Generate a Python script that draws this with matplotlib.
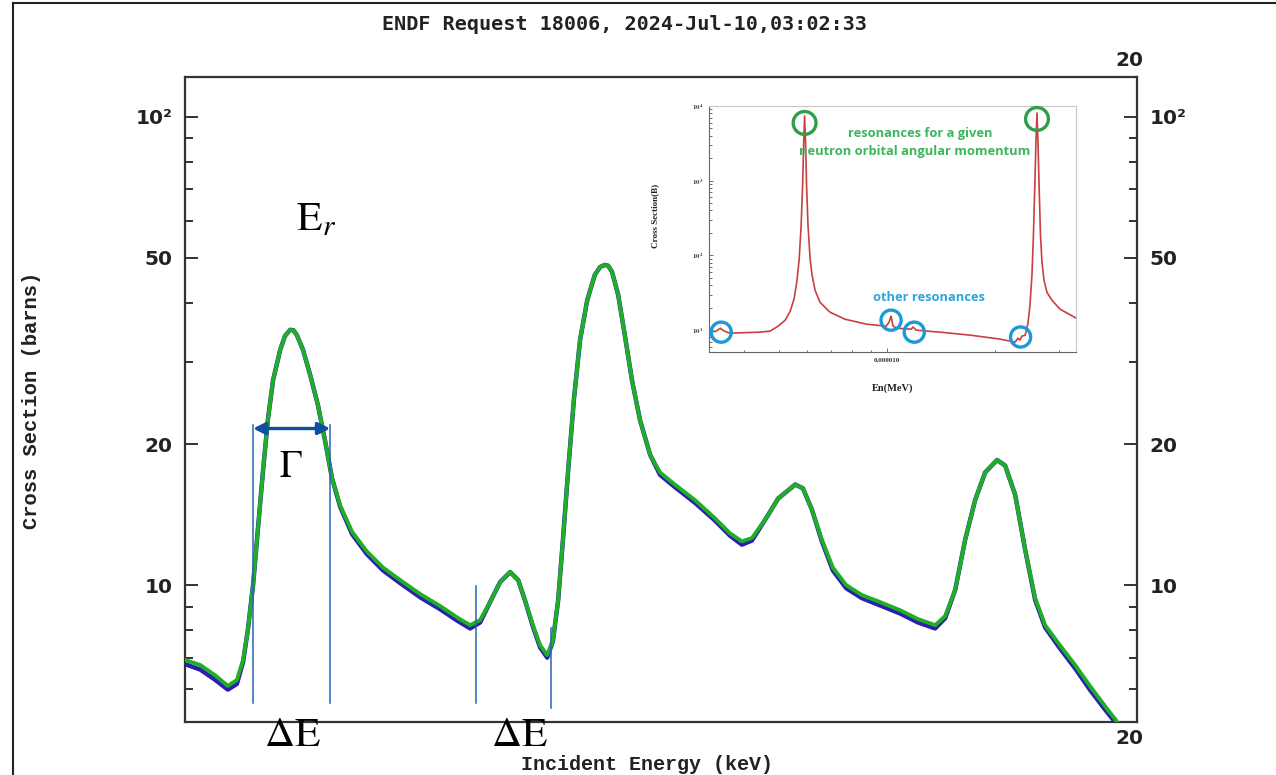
import matplotlib
matplotlib.use("Agg")
import matplotlib.pyplot as plt
from matplotlib.transforms import ScaledTranslation
from matplotlib.lines import Line2D

# ---------------- data ----------------
energy_kev = [0.00, 0.32, 0.63, 0.90, 1.09, 1.22, 1.32, 1.43, 1.53, 1.64,
              1.74, 1.85, 2.00, 2.10, 2.21, 2.28, 2.35, 2.48, 2.63, 2.79, 2.94, 3.09,
              3.26, 3.51, 3.82, 4.16, 4.52, 4.94, 5.36, 5.74, 5.99, 6.20,
              6.41, 6.62, 6.83, 7.00, 7.14, 7.31, 7.46, 7.61, 7.73, 7.84,
              7.94, 8.05, 8.17, 8.30, 8.45, 8.61, 8.72, 8.82, 8.89, 8.97, 9.10, 9.24,
              9.39, 9.56, 9.77, 9.98, 10.29, 10.71, 11.13, 11.45, 11.70, 11.91,
              12.19, 12.46, 12.82, 12.98, 13.17, 13.38, 13.61, 13.89, 14.22, 14.60,
              15.02, 15.40, 15.76, 15.97, 16.18, 16.39, 16.60, 16.81, 17.06, 17.23,
              17.44, 17.65, 17.86, 18.07, 18.38, 18.70, 19.01, 19.33, 19.64]

sigma_green = [6.92, 6.75, 6.42, 6.09, 6.27, 6.92, 8.01, 10.0, 13.1, 17.6,
               22.5, 27.4, 31.8, 34.05, 35.1, 35.0, 34.2, 31.8, 28.1, 24.3, 20.4, 16.9,
               14.8, 13.0, 11.8, 10.9, 10.25, 9.57, 9.02, 8.50, 8.21, 8.42,
               9.20, 10.15, 10.66, 10.25, 9.29, 8.21, 7.44, 7.09, 7.63, 9.29,
               12.5, 17.6, 24.9, 33.4, 40.6, 46.0, 47.8, 48.3, 48.1, 46.7, 41.7, 34.2,
               27.4, 22.5, 19.0, 17.4, 16.4, 15.2, 13.9, 12.9, 12.4, 12.6,
               13.8, 15.3, 16.4, 16.1, 14.5, 12.5, 10.9, 10.0, 9.52, 9.20,
               8.84, 8.46, 8.21, 8.59, 9.76, 12.5, 15.2, 17.4, 18.5, 18.0,
               15.6, 11.9, 9.38, 8.21, 7.44, 6.75, 6.09, 5.51, 5.02]

sigma_blue = [6.78, 6.60, 6.28, 5.98, 6.15, 6.85, 8.01, 10.0, 13.1, 17.6,
              22.5, 27.4, 31.8, 34.05, 35.1, 35.0, 34.2, 31.8, 28.1, 24.3, 20.4, 16.9,
              14.7, 12.85, 11.65, 10.75, 10.1, 9.42, 8.88, 8.37, 8.08, 8.32,
              9.20, 10.15, 10.66, 10.25, 9.29, 8.15, 7.36, 7.00, 7.60, 9.29,
              12.5, 17.6, 24.9, 33.4, 40.6, 46.0, 47.8, 48.3, 48.1, 46.7, 41.7, 34.2,
              27.4, 22.5, 19.0, 17.2, 16.2, 15.0, 13.75, 12.75, 12.2, 12.45,
              13.8, 15.3, 16.4, 16.1, 14.5, 12.4, 10.75, 9.85, 9.38, 9.05,
              8.70, 8.32, 8.08, 8.50, 9.76, 12.5, 15.2, 17.4, 18.5, 18.0,
              15.6, 11.9, 9.30, 8.12, 7.33, 6.64, 5.98, 5.42, 4.95]

y_major_ticks = [10, 20, 50, 100]
y_major_labels = ["10", "20", "50", "10\u00b2"]
y_minor_ticks = [6, 7, 8, 9, 30, 40, 60, 70, 80, 90]
x_ticks = [20]
x_tick_labels = ["20"]

# resonance width / spacing markers (keV, barns)
width_lines_kev = [1.43, 3.05]
width_lines_lo = [5.60, 5.60]
width_lines_hi = [22.0, 22.0]
spacing_lines_kev = [6.11, 7.69]
spacing_lines_lo = [5.60, 5.46]
spacing_lines_hi = [9.95, 8.09]
gamma_arrow_sigma = 21.6

# inset (MeV, barns)
inset_energy_mev = [3.22e-6, 3.35e-6, 3.44e-6, 3.53e-6, 3.66e-6, 4.44e-6, 4.73e-6, 4.98e-6, 5.21e-6, 5.38e-6,
                    5.52e-6, 5.62e-6, 5.70e-6, 5.77e-6, 5.825e-6, 5.862e-6, 5.90e-6, 5.94e-6, 5.975e-6, 6.03e-6,
                    6.11e-6, 6.19e-6, 6.31e-6, 6.51e-6, 6.94e-6, 7.64e-6, 8.80e-6, 9.94e-6, 1.013e-5, 1.026e-5,
                    1.039e-5, 1.066e-5, 1.166e-5, 1.181e-5, 1.205e-5, 1.403e-5, 1.70e-5, 2.06e-5, 2.27e-5, 2.31e-5,
                    2.34e-5, 2.37e-5, 2.42e-5, 2.464e-5, 2.495e-5, 2.527e-5, 2.551e-5, 2.576e-5, 2.593e-5, 2.610e-5,
                    2.626e-5, 2.643e-5, 2.669e-5, 2.695e-5, 2.730e-5, 2.782e-5, 2.873e-5, 3.024e-5, 3.35e-5]
inset_sigma_b = [9.40, 9.70, 10.6, 9.70, 9.12, 9.40, 9.70, 11.3, 13.6, 17.9,
                 26.7, 46.4, 91.2, 251, 858, 2930, 7360, 2930, 858, 251,
                 91.2, 54.1, 34.1, 23.6, 17.4, 14.0, 12.0, 11.3, 12.8, 15.4,
                 11.3, 10.6, 10.3, 11.0, 10.0, 9.40, 8.58, 7.59, 6.92, 7.82,
                 7.36, 8.32, 8.58, 12.4, 21.5, 54.1, 185, 1000, 3415, 8066,
                 3415, 1000, 185, 80.7, 46.4, 32.1, 25.1, 19.1, 14.5]
inset_yticks = [10, 100, 1000, 10000]
inset_ylabels = ["$\\mathbf{10^1}$", "$\\mathbf{10^2}$", "$\\mathbf{10^3}$", "$\\mathbf{10^4}$"]
inset_xticks = [1e-5]
inset_xlabels = ["0.000010"]
green_circle_E = [5.90e-6, 2.61e-5]
green_circle_s = [5930, 6710]
blue_circle_E = [3.46e-6, 1.026e-5, 1.19e-5, 2.35e-5]
blue_circle_s = [9.4, 13.6, 9.4, 8.1]

# ---------------- figure ----------------
W, H = 1276, 775
fig = plt.figure(figsize=(W / 100, H / 100), dpi=100)
fig.patch.set_facecolor("white")
plt.rcParams["mathtext.fontset"] = "stix"

def fx(px):
    return px / W

def fy(py):
    return 1 - py / H

ax = fig.add_axes([fx(185), fy(722), fx(1137) - fx(185), fy(77) - fy(722)])
ax.set_yscale("log")
ax.set_xlim(0, 20)
ax.set_ylim(5.1, 121.7)

ax.plot(energy_kev, sigma_blue, color="#2a1fb0", lw=3.2, solid_joinstyle="round", zorder=3)
ax.plot(energy_kev, sigma_green, color="#1fae26", lw=2.8, solid_joinstyle="round", zorder=4)

for sp in ax.spines.values():
    sp.set_color("#333333")
    sp.set_linewidth(1.6)

ax.set_yticks(y_major_ticks)
ax.set_yticklabels(y_major_labels)
ax.set_yticks(y_minor_ticks, minor=True)
ax.yaxis.set_minor_formatter(plt.NullFormatter())
ax.tick_params(axis="y", which="both", direction="in", left=True, right=True,
               labelleft=True, labelright=True, color="#333333", width=1.4)
ax.tick_params(axis="y", which="major", length=9.5, pad=9)
ax.tick_params(axis="y", which="minor", length=5.5)
for t in ax.yaxis.get_major_ticks():
    for lab in (t.label1, t.label2):
        lab.set_fontweight("bold")
        lab.set_fontsize(14.5)
        lab.set_color("#222222")

ax.set_xticks(x_ticks)
ax.set_xticklabels(x_tick_labels)
ax.tick_params(axis="x", which="both", length=0, top=True, bottom=True,
               labeltop=True, labelbottom=True, pad=5)
ax.xaxis.set_minor_locator(plt.NullLocator())
for t in ax.xaxis.get_major_ticks():
    for lab in (t.label1, t.label2):
        lab.set_fontweight("bold")
        lab.set_fontsize(14.5)
        lab.set_color("#222222")
        lab.set_transform(lab.get_transform() + ScaledTranslation(-0.08, 0, fig.dpi_scale_trans))

# resonance annotations
for e, lo, hi in zip(width_lines_kev, width_lines_lo, width_lines_hi):
    ax.plot([e, e], [lo, hi], color="#2a62b8", lw=1.1, zorder=5)
for e, lo, hi in zip(spacing_lines_kev, spacing_lines_lo, spacing_lines_hi):
    ax.plot([e, e], [lo, hi], color="#2a62b8", lw=1.1, zorder=5)
ax.annotate("", xy=(width_lines_kev[0], gamma_arrow_sigma), xytext=(width_lines_kev[1], gamma_arrow_sigma),
            arrowprops=dict(arrowstyle="<|-|>", color="#0c4fa0", lw=2.4,
                            mutation_scale=18, shrinkA=0, shrinkB=0), zorder=6)

fig.text(fx(316), fy(218), r"$\mathrm{E}_{r}$", fontsize=30, ha="center", va="center", color="black")
fig.text(fx(291), fy(467), r"$\Gamma$", fontsize=27, ha="center", va="center", color="black")
fig.text(fx(292), fy(734), r"$\Delta\mathrm{E}$", fontsize=30, ha="center", va="center", color="black")
fig.text(fx(519), fy(734), r"$\Delta\mathrm{E}$", fontsize=30, ha="center", va="center", color="black")

# titles / labels
fig.text(fx(625), fy(25), "ENDF Request 18006, 2024-Jul-10,03:02:33", family="DejaVu Sans Mono",
         fontweight="bold", fontsize=14.5, ha="center", va="center", color="#222222")
fig.text(fx(647), fy(765), "Incident Energy (keV)", family="Liberation Mono",
         fontweight="bold", fontsize=14.4, ha="center", va="center", color="#222222")
fig.text(fx(32), fy(400), "Cross Section (barns)", family="Liberation Mono",
         fontweight="bold", fontsize=14.8, ha="center", va="center", rotation=90, color="#222222")

# outer border lines
fig.add_artist(Line2D([fx(13), fx(13)], [fy(3), 0], color="#222222", lw=1.5))
fig.add_artist(Line2D([fx(13), 1], [fy(3), fy(3)], color="#222222", lw=1.5))

# ---------------- inset ----------------
axi = fig.add_axes([fx(709), fy(352), fx(1076) - fx(709), fy(106) - fy(352)])
axi.set_xscale("log")
axi.set_yscale("log")
axi.set_xlim(3.2e-6, 3.35e-5)
axi.set_ylim(5.1, 9700)
axi.plot(inset_energy_mev, inset_sigma_b, color="#c8403f", lw=1.2, zorder=3)
axi.scatter(green_circle_E, green_circle_s, s=270, facecolors="none", edgecolors="#2f9e4b",
            linewidths=2.4, zorder=4, clip_on=False)
axi.scatter(blue_circle_E, blue_circle_s, s=210, facecolors="none", edgecolors="#1c9ad8",
            linewidths=2.4, zorder=4, clip_on=False)

axi.set_yticks(inset_yticks)
axi.set_yticklabels(inset_ylabels)
axi.set_xticks(inset_xticks)
axi.set_xticklabels(inset_xlabels)
axi.xaxis.set_minor_formatter(plt.NullFormatter())
axi.yaxis.set_minor_formatter(plt.NullFormatter())
axi.tick_params(which="both", direction="in", color="#555555", width=0.6, labelsize=5,
                labelcolor="#333333", pad=4)
axi.tick_params(which="major", length=3)
axi.tick_params(which="minor", length=1.8)
for lab in axi.get_xticklabels() + axi.get_yticklabels():
    lab.set_family("Liberation Serif")
    lab.set_fontweight("bold")
for s in ("left", "bottom"):
    axi.spines[s].set_color("#666666")
    axi.spines[s].set_linewidth(0.8)
for s in ("top", "right"):
    axi.spines[s].set_color("#c8c8c8")
    axi.spines[s].set_linewidth(0.8)

fig.text(fx(893), fy(388), "En(MeV)", family="Liberation Serif", fontweight="bold",
         fontsize=7.5, ha="center", va="center", color="#222222")
fig.text(fx(655), fy(216), "Cross Section(B)", family="Liberation Serif", fontweight="bold",
         fontsize=6.5, ha="center", va="center", rotation=90, color="#222222")

fig.text(fx(920), fy(134), "resonances for a given", family="Open Sans", fontweight="bold",
         fontsize=9.3, ha="center", va="center", color="#3db55c")
fig.text(fx(915), fy(152), "neutron orbital angular momentum", family="Open Sans", fontweight="bold",
         fontsize=9.3, ha="center", va="center", color="#3db55c")
fig.text(fx(929), fy(297), "other resonances", family="Open Sans", fontweight="bold",
         fontsize=9.3, ha="center", va="center", color="#2aa6df")

fig.savefig("out.png", dpi=100)
